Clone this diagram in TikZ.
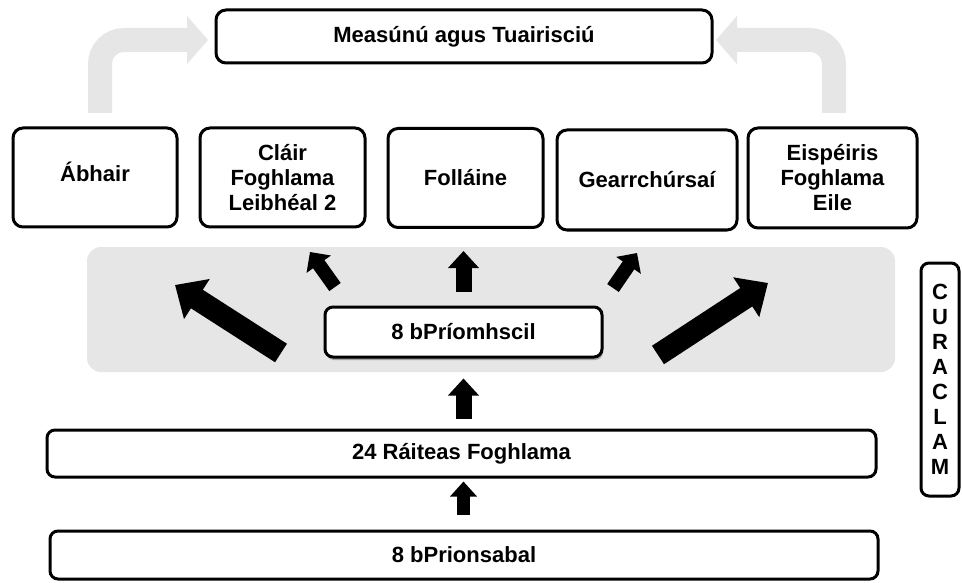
\documentclass[tikz,border=0pt]{standalone}
\usepackage{fontspec}
\setmainfont{Liberation Sans}
\usetikzlibrary{arrows.meta,shadows}
\definecolor{bandgrey}{HTML}{E6E6E6}

\begin{document}
\begin{tikzpicture}[x=1pt,y=-1pt,
    box/.style={draw, line width=3pt, rounded corners=10pt, fill=white, align=center,
        inner sep=0pt, font=\fontsize{22}{25}\selectfont\bfseries},
    bigarrow/.style={line width=22pt, -{Triangle[length=26pt,width=46pt]}},
    smallarrow/.style={line width=14pt, -{Triangle[length=15pt,width=29pt]}},
    uparrow/.style={line width=16pt, -{Triangle[length=17pt,width=30pt]}},
    elbow/.style={bandgrey, line width=24pt, rounded corners=24pt, -{Triangle[length=21pt,width=47pt]}}]
    \useasboundingbox (0,0) rectangle (962,583);

    % grey band behind the skills
    \fill[bandgrey, rounded corners=14pt] (87,247) rectangle (895,372);

    \node[box, minimum width=496pt, minimum height=53pt] (meas) at (464,36.5) {Measúnú agus Tuairisciú};

    \node[box, minimum width=164pt, minimum height=99pt, text depth=12pt] (abhair) at (95,177.5) {Ábhair};
    \node[box, minimum width=165pt, minimum height=99pt] (clair) at (282.5,177.5) {Cláir\\Foghlama\\Leibhéal 2};
    \node[box, minimum width=155pt, minimum height=99pt] (follaine) at (465.5,178) {Folláine};
    \node[box, minimum width=180pt, minimum height=100pt] (gearr) at (647,180) {Gearrchúrsaí};
    \node[box, minimum width=169pt, minimum height=100pt] (eisp) at (832.5,178) {Eispéiris\\Foghlama\\Eile};

    \node[box, rounded corners=8pt, minimum width=277pt, minimum height=50pt,
        drop shadow={shadow xshift=1pt, shadow yshift=-3pt, fill=black!60, opacity=.5}] (prio) at (463.5,332) {8 bPríomhscil};
    \node[box, rounded corners=8pt, minimum width=829pt, minimum height=47pt] (raiteas) at (461.5,453.5) {24 Ráiteas Foghlama};
    \node[box, rounded corners=8pt, minimum width=828pt, minimum height=48pt] (prion) at (464,555) {8 bPrionsabal};

    \node[box, rounded corners=8pt, minimum width=38pt, minimum height=233pt] (cur) at (940,379.5) {C\\U\\R\\A\\C\\L\\A\\M};

    % grey elbows up to the top box
    \coordinate (elbowL) at (100,113);
    \coordinate (elbowLend) at (208,40);
    \coordinate (elbowR) at (834,113);
    \coordinate (elbowRend) at (716,40);
    \draw[elbow] (elbowL) |- (elbowLend);
    \draw[elbow] (elbowR) |- (elbowRend);

    % arrows out of the skills
    \coordinate (tailAbhair) at (281,353);
    \coordinate (tipAbhair) at (175,285);
    \coordinate (tailClair) at (335,287);
    \coordinate (tipClair) at (310,252);
    \coordinate (tailGearr) at (613,288);
    \coordinate (tipGearr) at (637,253);
    \coordinate (tailEisp) at (658,355);
    \coordinate (tipEisp) at (768,283);
    \draw[bigarrow] (tailAbhair) -- (tipAbhair);
    \draw[smallarrow] (tailClair) -- (tipClair);
    \draw[uparrow, shorten <=14pt, shorten >=22pt] (prio.north) -- (follaine.south -| prio.north);
    \draw[smallarrow] (tailGearr) -- (tipGearr);
    \draw[bigarrow] (tailEisp) -- (tipEisp);

    \draw[uparrow, shorten <=10pt, shorten >=20pt] (raiteas.north -| prio) -- (prio.south);
    \draw[line width=13pt, -{Triangle[length=15pt,width=26pt]}, shorten <=15pt, shorten >=3pt] (prion.north -| prio) -- (raiteas.south -| prio);
\end{tikzpicture}
\end{document}
